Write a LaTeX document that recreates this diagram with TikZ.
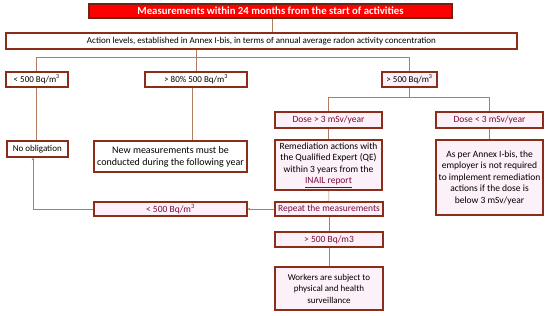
\documentclass[tikz,border=0pt]{standalone}
\usepackage{fontspec}
\setmainfont{Carlito}
\usepackage{tikz}
\usetikzlibrary{arrows.meta,positioning,calc}
\usepackage{xcolor}
\definecolor{edgebrown}{RGB}{140,45,25}
\definecolor{linktan}{RGB}{175,125,95}
\definecolor{maroontxt}{RGB}{120,10,55}
\definecolor{boxpink}{RGB}{253,241,249}

\begin{document}
\begin{tikzpicture}[x=1pt, y=-1pt,
    box/.style={rectangle, draw=edgebrown, line width=1.5pt, fill=#1, inner sep=1pt, font=\fontsize{9}{11.5}\selectfont, align=center},
    box/.default=white,
    hot/.style={text=maroontxt, font=\fontsize{9.5}{11.5}\selectfont},
    big/.style={font=\fontsize{9.5}{11.5}\selectfont},
    link/.style={draw=linktan, line width=0.6pt},
    arr/.style={link, -{Stealth[length=2.5pt, width=2.5pt]}}
]
\useasboundingbox (0,0) rectangle (550,316);
% header
\node[box=red, draw=edgebrown!80!black, minimum width=363pt, minimum height=14pt, font=\fontsize{10.75}{12}\selectfont\bfseries, text=white] (title) at (270.5,11) {Measurements within 24 months from the start of activities};
\node[box, minimum width=511pt, minimum height=16pt] (levels) at (261.5,41) {Action levels, established in Annex I-bis, in terms of annual average radon activity concentration};
% first row
\node[box, minimum width=62pt, minimum height=15pt, anchor=west] (low) at (5,79.5) {< 500 Bq/m\textsuperscript{3}};
\node[box, minimum width=102pt, minimum height=15pt] (mid) at (196,79.5) {> 80\% 500 Bq/m\textsuperscript{3}};
\node[box=boxpink, minimum width=55pt, minimum height=15pt] (high) at (409.5,79.5) {> 500 Bq/m\textsuperscript{3}};
% left branches
\node[box, minimum width=61pt, minimum height=16pt, anchor=west] (noob) at (6,149) {No obligation};
\node[box, font=\fontsize{10}{12}\selectfont, minimum width=153pt, minimum height=31pt] (newmeas) at (170.5,156.5) {New measurements must be\\conducted during the following year};
% dose branches
\node[box=boxpink, hot, minimum width=107pt, minimum height=16pt] (dosehi) at (328.5,120) {Dose > 3 mSv/year};
\node[box=boxpink, hot, minimum width=107pt, minimum height=16pt] (doselo) at (489.5,120) {Dose < 3 mSv/year};
\node[box=boxpink, big, minimum width=107pt, minimum height=50pt] (remed) at (328.5,165) {Remediation actions with\\the Qualified Expert (QE)\\within 3 years from the\\\textcolor{maroontxt}{\underline{INAIL report}}};
\node[box=boxpink, big, minimum width=107pt, minimum height=75pt] (asper) at (489.5,177.5) {As per Annex I-bis, the\\employer is not required\\to implement remediation\\actions if the dose is\\below 3 mSv/year};
\node[box=boxpink, hot, minimum width=108pt, minimum height=14pt] (repeat) at (329,209) {Repeat the measurements};
\node[box=boxpink, hot, minimum width=153pt, minimum height=14pt] (below) at (170.5,209) {< 500 Bq/m\textsuperscript{3}};
\node[box=boxpink, hot, minimum width=108pt, minimum height=15pt] (above) at (329,239.5) {> 500 Bq/m3};
\node[box=boxpink, minimum width=108pt, minimum height=43pt] (workers) at (329,288.5) {Workers are subject to\\physical and health\\surveillance};

\coordinate (bus) at (0,57);
\coordinate (fork) at (0,97);
\coordinate (back) at (33,0);
\coordinate (drop) at (272,0);
\draw[link] (title.south -| drop) -- (levels.north -| drop);
\draw[link] (levels.south -| mid.north) -- (mid.north |- bus);
\draw[link] (low.north) -- (low.north |- bus) -- (high.north |- bus) -- (high.north);
\draw[link] (mid.north |- bus) -- (mid.north);
\draw[link] (low.south) -- (noob.north -| low.south);
\draw[link] ($(mid.south)+(-4,0)$) -- ($(newmeas.north -| mid.south)+(-4,0)$);
\draw[link] (high.south) -- (high.south |- fork) -- (dosehi.north |- fork) -- (dosehi.north);
\draw[link] (high.south |- fork) -- (doselo.north |- fork) -- (doselo.north);
\draw[link] (dosehi) -- (remed);
\draw[link] (doselo) -- (asper);
\draw[link] (remed) -- (repeat);
\draw[link] (repeat) -- (above);
\draw[link] (above) -- (workers);
\draw[arr] (repeat) -- (below);
\draw[arr] (below.west) -- (below.west -| back) -- (noob.south -| back);
\end{tikzpicture}
\end{document}
